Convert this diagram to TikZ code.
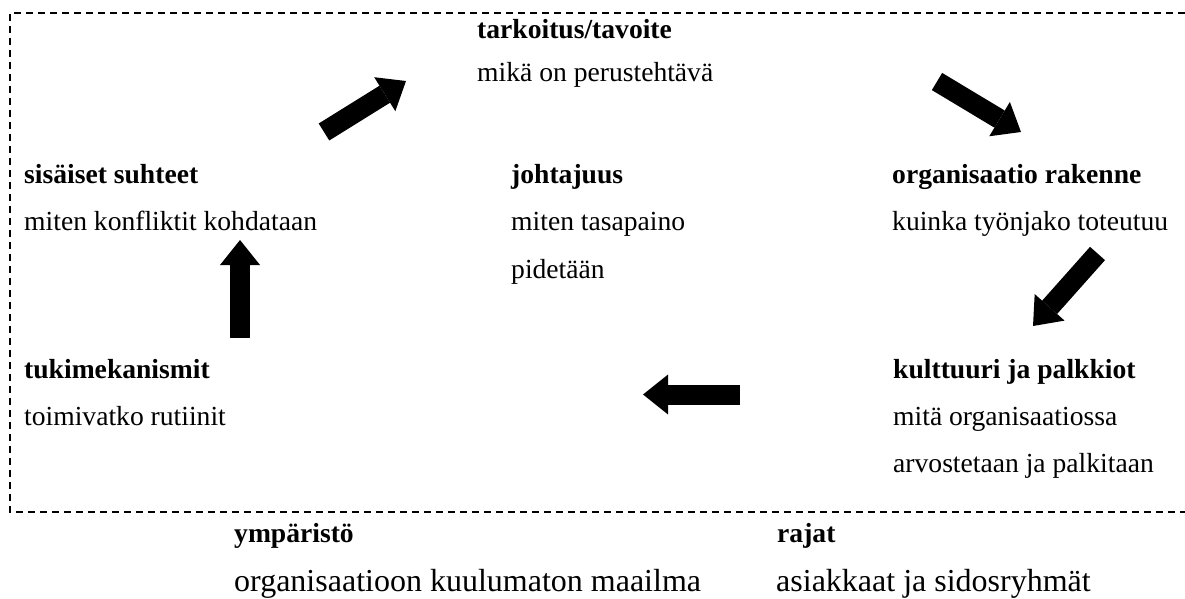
\documentclass[tikz,border=0pt]{standalone}
\usepackage{fontspec}
\setmainfont{Liberation Serif}
\usetikzlibrary{arrows.meta}
\tikzset{
  txt/.style={anchor=base west, inner sep=0pt, font=\fontsize{27.6}{33}\selectfont},
  head/.style={txt, font=\fontsize{27.6}{33}\selectfont\bfseries},
  bigtxt/.style={anchor=base west, inner sep=0pt, font=\fontsize{32}{38}\selectfont},
  frame/.style={line width=1.7pt, dash pattern=on 7pt off 5pt},
  blockarrow/.style={line width=20pt, -{Triangle[width=40pt,length=25pt,line width=0pt]}}
}
\begin{document}
\begin{tikzpicture}[x=1pt,y=-1pt]
\useasboundingbox (0,0) rectangle (1185,599);
% frame
\coordinate (fTR) at (1185,13);
\coordinate (fTL) at (10,13);
\coordinate (fBL) at (10,512);
\coordinate (fBR) at (1185,512);
\draw[frame] (fTR) -- (fTL) -- (fBL) -- (fBR);
% texts
\node[head] (tark) at (477,39) {tarkoitus/tavoite};
\node[txt] (tarkb) at (477,82) {mikä on perustehtävä};
\node[head] (sis) at (24,183) {sisäiset suhteet};
\node[txt] (sisb) at (24,230) {miten konfliktit kohdataan};
\node[head] (joht) at (511,183) {johtajuus};
\node[txt] (johtb) at (511,230) {miten tasapaino};
\node[txt] (johtc) at (511,278) {pidetään};
\node[head] (org) at (892,183) {organisaatio rakenne};
\node[txt] (orgb) at (892,230) {kuinka työnjako toteutuu};
\node[head] (tuki) at (24,378) {tukimekanismit};
\node[txt] (tukib) at (24,425) {toimivatko rutiinit};
\node[head] (kult) at (893,378) {kulttuuri ja palkkiot};
\node[txt] (kultb) at (893,425) {mitä organisaatiossa};
\node[txt] (kultc) at (893,472) {arvostetaan ja palkitaan};
\node[head] (ymp) at (234,542) {ympäristö};
\node[bigtxt] (ympb) at (234,591) {organisaatioon kuulumaton maailma};
\node[head] (raj) at (777,542) {rajat};
\node[bigtxt] (rajb) at (776,591) {asiakkaat ja sidosryhmät};
% arrows
\coordinate (a1s) at (324,132); \coordinate (a1e) at (406,81);
\coordinate (a2s) at (937,81.5); \coordinate (a2e) at (1021,132);
\coordinate (a3s) at (1097.5,253.5); \coordinate (a3e) at (1033,326);
\coordinate (a4s) at (740,394.5); \coordinate (a4e) at (643,394.5);
\coordinate (a5s) at (240,338); \coordinate (a5e) at (240,240);
\draw[blockarrow] (a1s) -- (a1e);
\draw[blockarrow] (a2s) -- (a2e);
\draw[blockarrow] (a3s) -- (a3e);
\draw[blockarrow] (a4s) -- (a4e);
\draw[blockarrow] (a5s) -- (a5e);
\end{tikzpicture}
\end{document}
